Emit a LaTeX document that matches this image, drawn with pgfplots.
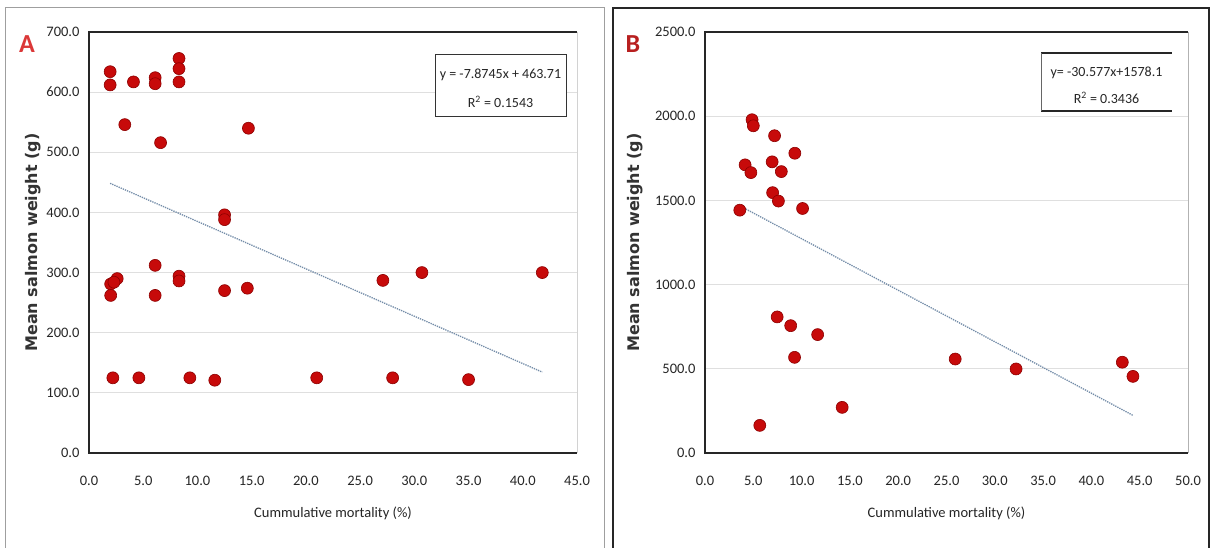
\documentclass[border=0pt]{standalone}
\usepackage{fontspec}
\setmainfont{Carlito}
\newfontfamily\labfont{DejaVu Sans}
\usepackage{pgfplots}
\pgfplotsset{compat=1.18}
\definecolor{mk}{rgb}{0.78,0.04,0.04}
\definecolor{mkd}{rgb}{0.55,0.0,0.0}
\definecolor{trend}{rgb}{0.45,0.55,0.66}
\definecolor{letA}{rgb}{0.86,0.22,0.22}
\definecolor{letB}{rgb}{0.72,0.12,0.12}
\pgfplotsset{
  panel/.style={
    anchor=south west, scale only axis, height=421pt,
    ymin=0, axis line style={draw=none},
    tick style={draw=none},
    ymajorgrids, grid style={gray!25, line width=0.8pt},
    /pgf/number format/fixed, /pgf/number format/fixed zerofill,
    /pgf/number format/precision=1, /pgf/number format/1000 sep={},
    /pgf/number format/assume math mode=true,
    scaled x ticks=false, scaled y ticks=false,
    ticklabel style={font=\fontsize{14.5}{16}\selectfont, text=black!85},
    xticklabel style={yshift=-20pt},
    yticklabel style={xshift=-6pt},
    xlabel={Cummulative mortality (\%)},
    xlabel style={font=\fontsize{14.5}{16}\selectfont, text=black!85, yshift=-14pt},
    ylabel={Mean salmon weight (g)},
    ylabel style={font=\labfont\bfseries\fontsize{16}{18}\selectfont, text=black!80, anchor=center},
    clip=false,
  },
  pts/.style={only marks, mark=*, mark size=6pt, mark options={fill=mk, draw=mkd, line width=0.6pt}},
  tl/.style={trend, densely dotted, line width=1.3pt, no marks},
}
\begin{document}
\begin{tikzpicture}[x=1pt,y=1pt]
\useasboundingbox (0,0) rectangle (1212,548);
\fill[white] (0,0) rectangle (1212,548);
% panel frames
\draw[gray!75, line width=1pt] (5,-10) -- (5,540) -- (604,540) -- (604,-10);
\draw[black!85, line width=1.2pt] (613,-10) -- (613,540) -- (1209,540) -- (1209,-10);

% ---------- Panel A ----------
\begin{axis}[panel, at={(89pt,95pt)}, width=488pt,
  xmin=0, xmax=45, ymax=700,
  xtick={0,5,...,45}, ytick={0,100,...,700},
  ylabel style={at={(axis description cs:-0.114,0.5)}},
]
\addplot[tl] coordinates {(1.95,448.4) (41.8,134.5)};
\addplot[pts] coordinates {
(1.95,634) (1.95,612) (4.1,617) (3.3,546) (6.1,624) (6.1,614)
(8.3,656) (8.3,639) (8.3,617) (6.6,516) (14.7,540) (12.5,396) (12.5,388)
(2.0,281) (2.0,262) (2.6,290) (2.3,284) (6.1,312) (6.1,262) (8.3,294) (8.3,286)
(12.5,270) (14.6,274) (27.1,287) (30.7,300) (41.8,300)
(2.2,125) (4.6,125) (9.3,125) (11.6,121) (21.0,125) (28.0,125) (35.0,122)
};
\draw[black!85, line width=1.6pt] (rel axis cs:1,1) -- (rel axis cs:0,1) -- (rel axis cs:0,0) -- (rel axis cs:1,0);
\draw[gray!35, line width=0.8pt] (rel axis cs:1,0) -- (rel axis cs:1,1);
\end{axis}
\draw[black!80, line width=1pt, fill=white] (435,431) rectangle (566,493);
\node[font=\fontsize{14}{16}\selectfont, text=black!85] at (500.5,473) {y = -7.8745x + 463.71};
\node[font=\fontsize{14}{16}\selectfont, text=black!85] at (500.5,446) {R\textsuperscript{2} = 0.1543};
\node[font=\bfseries\fontsize{26}{28}\selectfont, text=letA] at (27,504) {A};

% ---------- Panel B ----------
\begin{axis}[panel, at={(705pt,95pt)}, width=483pt,
  xmin=0, xmax=50, ymax=2500,
  xtick={0,5,...,50}, ytick={0,500,...,2500},
  ylabel style={at={(axis description cs:-0.145,0.5)}},
]
\addplot[tl] coordinates {(3.6,1468.0) (44.3,223.5)};
\addplot[pts] coordinates {
(4.87,1979) (5.0,1943) (7.2,1884) (9.3,1780) (4.15,1711) (4.75,1665)
(6.95,1729) (7.9,1671) (7.0,1546) (7.6,1496) (3.6,1442) (10.1,1452)
(7.47,808) (8.87,756) (11.66,703) (9.27,568) (25.9,558) (32.2,499)
(43.2,539) (44.3,455) (5.67,164) (14.2,271)
};
\draw[black!85, line width=1.6pt] (rel axis cs:1,1) -- (rel axis cs:0,1) -- (rel axis cs:0,0) -- (rel axis cs:1,0);
\draw[gray!60, line width=1pt] (rel axis cs:1,0) -- (rel axis cs:1,1);
\end{axis}
\fill[white] (1041,437) rectangle (1172,495);
\draw[black!85, line width=1.8pt] (1041,495) -- (1172,495);
\draw[black!85, line width=1.8pt] (1041,437) -- (1172,437);
\draw[black!60, line width=0.7pt] (1041,437) -- (1041,495);
\node[font=\fontsize{14}{16}\selectfont, text=black!85] at (1106.5,475) {y= -30.577x+1578.1};
\node[font=\fontsize{14}{16}\selectfont, text=black!85] at (1106.5,450) {R\textsuperscript{2} = 0.3436};
\node[font=\bfseries\fontsize{26}{28}\selectfont, text=letB] at (633,504) {B};
\end{tikzpicture}
\end{document}
